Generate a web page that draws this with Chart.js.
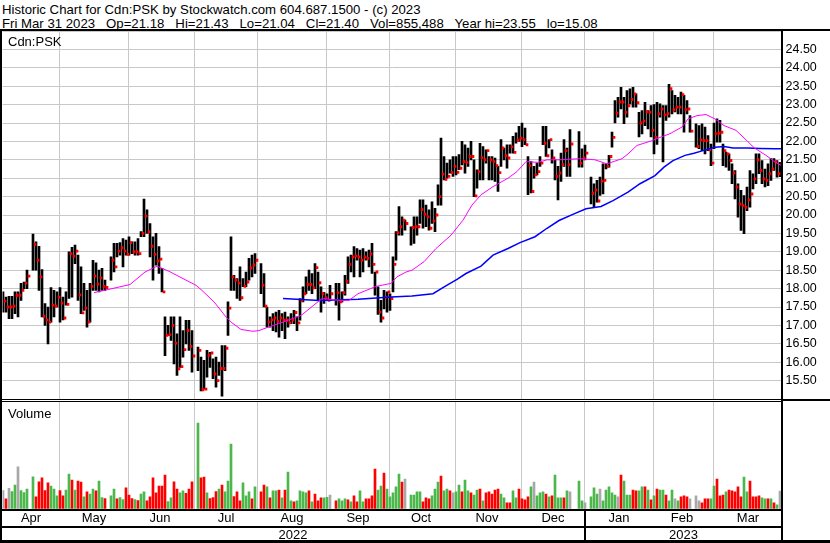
<!DOCTYPE html>
<html>
<head>
<meta charset="utf-8">
<script src="https://cdn.jsdelivr.net/npm/chart.js@4.4.0/dist/chart.umd.min.js"></script>
<style>
  body { margin: 0; background: #fff; }
  #wrap { position: relative; width: 830px; height: 543px; overflow: hidden; background: #fff;
          font-family: "Liberation Sans", Arial, sans-serif; color: #000; }
  canvas { position: absolute; left: 0; }
  .ln { position: absolute; background: #000; }
  .txt { position: absolute; font-size: 13px; line-height: 13px; white-space: pre; }
</style>
</head>
<body>
<div id="wrap">
  <div class="txt" style="left:2px;top:3px;font-size:13.2px">Historic Chart for Cdn:PSK by Stockwatch.com 604.687.1500 - (c) 2023</div>
  <div class="txt" style="left:2px;top:17px;font-size:13.2px">Fri Mar 31 2023   Op=21.18   Hi=21.43   Lo=21.04   Cl=21.40   Vol=855,488   Year hi=23.55   lo=15.08</div>

  <canvas id="price" width="830" height="368" style="top:31px"></canvas>
  <canvas id="marks" width="830" height="368" style="top:31px"></canvas>
  <canvas id="vol" width="830" height="125" style="top:402px"></canvas>

  <div class="txt" style="left:8px;top:35px">Cdn:PSK</div>
  <div class="txt" style="left:8px;top:407px">Volume</div>
  <div class="txt" id="y0" style="top:528px;text-align:center"></div>
  <div class="txt" id="y1" style="top:528px;text-align:center"></div>

  <!-- frame -->
  <div class="ln" style="left:0;top:29px;width:830px;height:2px"></div>
  <div class="ln" style="left:0;top:29px;width:2px;height:514px"></div>
  <div class="ln" style="left:781px;top:29px;width:2px;height:514px"></div>
  <div class="ln" style="left:0;top:399px;width:781px;height:1px"></div>
  <div class="ln" style="left:0;top:401px;width:781px;height:1px"></div>
  <div class="ln" style="left:781px;top:399px;width:49px;height:2px"></div>
  <div class="ln" style="left:0;top:509px;width:781px;height:2px"></div>
  <div class="ln" style="left:0;top:526px;width:781px;height:2px"></div>
  <div class="ln" style="left:0;top:540px;width:830px;height:3px"></div>
  <div class="ln" id="ysep" style="top:509px;width:2px;height:33px"></div>
</div>

<script>
// one slot per weekday, Mon 4 Apr 2022 .. Fri 31 Mar 2023 (null = exchange holiday)
const months = ["Apr", "May", "Jun", "Jul", "Aug", "Sep", "Oct", "Nov", "Dec", "Jan", "Feb", "Mar"];
const monthLine = [0, 19, 42, 64, 85, 108, 129, 151, 173, 194, 217, 237]; // slot where each month's grid line falls
const years = ["2022", "2023"];
const yearStart = [0, 194];

const hi = [
  17.91,17.77,17.79,17.79,17.91,17.91,18.14,18.18,18.50,null,19.48,19.27,19.15,18.52,17.59,17.50,18.03,17.95,17.91,18.03,
  17.77,17.91,19.00,19.12,19.18,18.91,18.59,18.14,17.95,18.14,18.77,18.70,18.50,18.55,18.23,null,18.86,19.23,19.23,19.25,19.36,19.32,
  19.41,19.27,19.27,19.36,19.55,20.43,20.14,19.77,19.41,19.50,19.14,18.55,17.23,17.00,17.23,17.23,16.77,17.23,16.86,17.14,17.14,16.86,
  null,16.41,16.14,16.05,16.32,16.27,16.09,16.14,16.00,16.45,16.45,17.64,19.41,18.36,18.27,18.59,18.27,18.45,18.82,18.91,18.95,
  null,18.68,18.41,17.50,17.23,17.32,17.36,17.41,17.32,17.36,17.23,17.32,17.41,17.23,17.73,18.05,18.32,18.50,18.41,18.68,18.45,18.05,17.90,
  17.86,18.09,null,18.14,18.14,17.91,18.36,18.86,18.91,19.14,19.09,19.05,19.09,19.00,19.05,19.23,18.45,18.05,17.68,17.95,17.91,17.86,
  18.86,19.55,20.23,19.95,19.86,null,19.68,19.95,19.95,20.41,20.41,20.27,20.14,20.36,20.18,20.82,22.09,21.59,21.41,21.50,21.59,
  21.59,21.64,22.00,21.91,21.82,22.00,21.50,21.23,21.95,21.86,21.77,21.59,21.59,21.55,21.32,22.05,21.82,21.91,21.91,22.14,22.23,22.41,
  22.50,22.36,21.59,21.45,21.32,21.41,21.59,22.41,22.41,22.05,21.77,21.50,21.32,21.68,22.05,21.82,22.32,null,null,22.27,21.80,21.90,
  null,21.03,20.85,20.94,21.03,21.39,21.39,21.62,22.25,23.11,23.20,23.47,23.20,23.38,23.43,23.47,23.29,22.79,22.84,23.06,22.84,22.97,
  23.00,23.06,23.02,22.97,22.97,23.55,23.38,23.25,23.20,23.34,23.25,23.11,22.70,null,22.48,22.43,22.48,22.39,22.16,21.93,
  22.50,22.61,22.57,21.93,21.71,21.66,21.39,21.21,20.85,20.67,20.53,20.76,21.21,21.12,21.66,21.66,21.48,21.25,21.39,21.53,21.53,21.48,21.43
];
const lo = [
  17.36,17.36,17.18,17.18,17.32,17.23,17.68,18.00,18.00,null,18.50,18.50,17.95,17.23,17.00,16.50,17.09,17.23,17.50,17.09,
  17.15,17.55,17.73,17.77,18.68,17.68,17.32,17.41,16.95,17.09,17.95,17.95,17.91,17.95,17.95,null,18.23,18.45,18.86,18.91,18.59,18.91,
  18.91,18.95,18.91,18.91,19.41,19.41,19.50,18.86,18.23,18.64,18.41,17.91,16.18,16.73,16.59,15.95,15.64,15.86,16.14,16.50,16.32,15.73,
  null,15.77,15.22,15.27,15.59,15.86,15.55,15.32,15.64,15.08,15.77,16.73,17.95,17.95,17.73,17.68,18.05,18.05,18.23,18.32,18.41,
  null,17.86,17.50,16.95,16.95,16.86,16.82,16.68,16.86,16.64,16.95,17.05,17.05,16.86,17.14,17.64,17.86,17.95,17.86,18.00,17.68,17.36,17.60,
  17.68,17.68,null,17.55,17.14,17.64,17.82,18.14,18.45,18.32,18.77,18.32,18.45,18.77,18.59,18.41,17.82,17.30,17.09,17.45,17.36,17.41,
  17.91,18.77,19.45,19.45,19.59,null,19.18,19.23,19.45,19.77,19.64,19.68,19.59,19.77,19.55,20.27,20.27,20.95,21.00,21.14,21.05,
  21.09,21.23,21.36,21.14,21.32,21.50,20.50,20.73,20.95,20.95,21.41,20.95,20.95,20.91,20.64,21.32,21.50,21.27,21.68,21.68,21.95,22.00,
  21.86,21.91,20.55,20.60,21.00,21.09,21.32,21.91,21.59,21.82,21.41,20.95,20.41,20.91,21.32,21.05,21.05,null,null,21.30,21.30,21.50,
  null,20.30,20.20,20.35,20.53,20.57,21.25,21.30,21.84,22.50,22.66,22.88,22.48,22.66,23.02,22.93,22.93,22.12,22.20,22.43,22.34,22.12,
  21.66,21.92,22.66,21.44,22.57,22.66,22.75,22.80,22.75,22.75,22.25,22.75,22.25,null,21.84,21.80,21.75,21.66,21.75,21.34,
  21.80,21.98,21.98,21.34,21.30,21.21,20.85,20.44,19.94,19.58,19.49,20.12,20.21,20.71,20.85,21.12,20.85,20.76,20.80,20.94,21.21,21.03,21.04
];
const cl = [
  17.66,17.50,17.50,17.52,17.82,17.82,17.95,18.15,18.34,null,19.20,18.77,18.32,17.25,17.15,17.09,17.55,17.52,17.77,17.61,
  17.20,17.57,18.95,18.88,19.02,17.83,17.34,17.47,17.09,18.06,18.34,18.12,18.29,18.06,18.03,null,18.77,18.59,19.02,19.11,19.02,18.93,
  19.25,19.00,19.00,18.95,19.50,19.97,19.55,19.15,18.93,18.75,18.80,17.91,16.73,16.75,17.00,16.52,15.82,15.88,16.34,16.86,16.43,16.17,
  null,16.32,15.25,15.27,16.19,16.25,15.68,15.50,15.83,15.83,16.38,17.47,18.32,18.23,18.15,17.75,18.06,18.18,18.56,18.64,18.77,
  null,18.09,17.52,17.09,17.15,17.20,17.11,17.20,17.14,17.14,17.07,17.15,17.35,17.07,17.68,17.86,18.11,18.11,18.02,18.57,18.16,17.86,17.75,
  17.68,17.86,null,17.89,17.64,17.89,18.20,18.66,18.86,18.89,18.86,18.77,18.86,18.82,18.94,18.66,18.45,17.36,17.20,17.77,17.91,17.73,
  18.66,19.52,19.68,19.86,19.77,null,19.66,19.68,19.68,20.15,20.02,19.95,19.64,19.84,20.00,20.50,21.11,20.97,21.05,21.15,21.32,
  21.16,21.27,21.45,21.43,21.59,21.59,20.52,21.18,21.56,21.50,21.75,21.50,21.45,21.34,21.15,21.82,21.61,21.55,21.85,21.70,22.03,22.09,
  22.05,21.91,21.34,20.64,21.09,21.18,21.41,21.95,21.61,22.05,21.55,21.05,21.14,21.37,21.75,21.37,21.93,null,null,21.41,21.55,21.68,
  null,20.59,20.68,20.38,20.92,20.94,21.32,21.59,22.11,22.77,23.07,23.07,22.79,22.97,23.14,23.29,23.05,22.50,22.55,22.81,22.79,22.30,
  22.11,22.75,22.88,22.72,22.75,23.43,22.86,22.93,22.93,23.27,22.86,22.88,22.28,null,21.86,22.04,22.02,22.02,21.77,21.41,
  22.21,22.22,22.25,21.75,21.66,21.48,21.14,20.76,20.30,20.26,20.21,20.41,20.57,20.98,21.50,21.21,20.98,20.94,21.12,21.25,21.44,21.12,21.40
];
// volume in millions of shares
const vol = [
  0.88,0.40,1.02,0.83,1.21,2.27,0.88,0.77,0.98,null,1.69,0.52,1.40,1.62,0.88,1.33,1.15,0.98,0.58,0.88,
  0.58,0.92,1.85,1.50,0.92,1.44,1.38,0.52,0.81,0.69,0.98,0.87,1.44,0.48,0.42,null,0.58,0.98,0.40,0.48,0.37,1.04,
  0.63,0.42,0.37,0.31,0.69,0.81,0.29,0.52,1.62,0.75,1.15,1.15,1.79,0.25,0.46,1.40,0.98,0.75,0.87,0.73,0.98,1.40,
  null,4.81,1.62,1.67,0.75,0.42,0.48,0.83,0.98,1.21,0.81,1.44,3.58,0.54,0.81,0.29,1.33,0.58,0.81,0.40,1.10,
  null,0.81,1.21,1.10,0.46,0.87,0.87,0.92,0.46,0.92,1.96,0.29,0.23,0.29,0.87,0.81,0.75,0.87,0.23,0.69,0.29,0.46,0.46,
  0.50,0.63,null,0.29,0.40,0.29,0.40,0.35,0.23,0.58,0.23,0.87,0.23,0.40,0.40,0.58,2.13,0.92,1.15,1.90,0.98,0.52,
  0.75,1.10,1.85,1.38,1.56,null,0.63,0.63,0.81,0.81,0.23,0.46,0.40,0.58,0.98,1.38,1.73,0.87,0.98,0.87,0.75,
  0.81,1.21,0.81,1.50,0.87,0.75,0.63,0.92,0.98,0.29,0.75,0.81,0.69,0.92,0.98,0.69,0.46,0.17,0.17,0.87,0.46,0.98,
  0.40,0.35,0.52,1.10,1.38,0.58,0.75,0.81,0.69,0.52,0.58,1.79,0.46,0.46,0.46,0.87,0.81,null,null,1.44,0.29,0.17,
  null,0.52,1.04,0.69,0.98,0.29,0.92,1.10,0.75,0.63,0.52,1.79,1.44,0.63,0.63,0.92,0.87,0.87,1.10,1.10,0.92,0.35,
  0.58,0.98,0.92,0.92,0.63,0.29,0.92,0.40,0.29,0.52,0.58,0.52,0.40,null,0.58,0.29,0.17,0.40,0.40,0.40,
  1.15,1.56,0.58,0.63,0.81,0.92,0.87,0.81,1.10,0.52,1.67,0.81,1.44,0.52,0.52,0.58,0.46,0.40,0.40,0.40,0.17,0.06,0.86
];
// day direction for the volume colour: u = up, d = down, n = unchanged
const volDir = (
  "ndnuunuuu.uddddduuud" + "duududduduuduud.uuduud" + "dduduudddd" + "ddduudduud" + "dd" +
  ".uddudddudu" + "uuddduuudu" + ".dduduudud" + "uuduuuudud" + "dd" +
  "uu.uduuududdu" + "udddduudu" + "uuuud.duuuuddduu" + "uduud" +
  "nuuduuduud" + "uddddduudd" + "uu" + "ddddunuuud" + "uduuudu..duu" +
  ".duuunuuuuu" + "nduuudduud" + "u" + "duduuduunu" + "ddd.dnnddd" +
  "uudddudddd" + "duudddduud" + "udu"
).split("");

// moving averages: [slot, price]
const maPink = [[30,17.89],[36,18.0],[42,18.11],[47,18.45],[51,18.61],[55,18.47],[59,18.30],[64,18.09],[66,17.95],
  [70,17.64],[74,17.23],[76,17.07],[79,16.89],[83,16.84],[85,16.86],[88,16.95],[93,17.09],[99,17.27],[106,17.73],
  [112,17.68],[115,17.68],[118,17.86],[124,18.06],[129,18.14],[131,18.32],[134,18.45],[136,18.5],[140,18.73],
  [144,19.09],[149,19.45],[153,19.86],[156,20.27],[159,20.55],[163,20.77],[168,21.0],[171,21.18],[174,21.45],
  [178,21.43],[181,21.5],[185,21.5],[192,21.53],[197,21.50],[201,21.39],[206,21.53],[208,21.66],[211,21.89],
  [216,22.02],[219,22.12],[222,22.21],[226,22.39],[228,22.61],[231,22.70],[234,22.73],[237,22.61],[240,22.43],
  [244,22.30],[247,22.07],[250,21.83],[254,21.62],[257,21.44],[259,21.35]];
const maBlue = [[93,17.73],[105,17.68],[118,17.71],[129,17.77],[136,17.80],[143,17.86],[147,18.06],[151,18.25],
  [154,18.41],[159,18.61],[163,18.91],[168,19.09],[172,19.25],[177,19.41],[181,19.64],[185,19.85],[190,20.03],
  [194,20.17],[199,20.23],[203,20.39],[208,20.62],[212,20.85],[217,21.07],[220,21.30],[223,21.48],[227,21.62],
  [230,21.68],[233,21.75],[237,21.84],[240,21.86],[243,21.82],[248,21.82],[252,21.81],[257,21.80],[259,21.80]];

const N = hi.length;
const labels = hi.map((_, i) => String(i));
const GRID = "#c8c8c8";
const NONE = "rgba(0,0,0,0)";
Chart.defaults.font.family = '"Liberation Sans", Arial, sans-serif';
Chart.defaults.color = "#000";

const isMonthLine = i => monthLine.indexOf(i) > 0;
const monthLabel = {};
months.forEach((m, k) => {
  const end = k + 1 < monthLine.length ? monthLine[k + 1] : N;
  monthLabel[Math.floor((monthLine[k] + end - 1) / 2)] = m;
});

const series = pts => {
  const a = new Array(N).fill(null);
  pts.forEach(([i, v]) => { a[i] = v; });
  return a;
};
const hlBars = hi.map((h, i) => h == null ? null : [lo[i], h]);
const closeTicks = cl.map(c => c == null ? null : [c - 0.03, c + 0.03]);

const common = {
  responsive: false,
  animation: false,
  events: [],
  layout: { padding: { left: 2.5, right: 0, top: 0, bottom: 0 } },
  plugins: { legend: { display: false }, tooltip: { enabled: false } }
};
const AXIS_W = 47.5;

// price scales; showGrid false gives the same geometry with nothing drawn
function priceScales(showGrid) {
  return {
    x: {
      grid: { offset: true, drawTicks: false, color: ctx => showGrid && isMonthLine(ctx.index) ? GRID : NONE },
      ticks: { display: false },
      border: { display: false },
      afterFit: s => { s.height = 0; s.paddingLeft = 0; s.paddingRight = 0; }
    },
    y: {
      position: "right",
      min: 15,
      max: 25,
      ticks: {
        display: showGrid, stepSize: 0.5, autoSkip: false, padding: 3,
        font: { size: 12.5 },
        callback: v => (v > 15 && v < 25) ? v.toFixed(2) : ""
      },
      grid: { drawTicks: false, color: showGrid ? GRID : NONE },
      border: { display: false },
      afterFit: s => { s.width = AXIS_W; s.paddingTop = 0; s.paddingBottom = 0; }
    }
  };
}

// high-low bars with grid and price axis
new Chart(document.getElementById("price"), {
  type: "bar",
  data: {
    labels: labels,
    datasets: [
      { data: hlBars, backgroundColor: "#000", barThickness: 2 },
      { data: closeTicks, backgroundColor: NONE, barThickness: 2 }
    ]
  },
  options: Object.assign({}, common, { scales: priceScales(true) })
});

// close ticks (right of each bar) and moving averages drawn on top
new Chart(document.getElementById("marks"), {
  type: "bar",
  data: {
    labels: labels,
    datasets: [
      { type: "line", data: series(maPink), borderColor: "#ff00ff", borderWidth: 1, pointRadius: 0, spanGaps: true, order: 0 },
      { type: "line", data: series(maBlue), borderColor: "#0000ff", borderWidth: 1.5, pointRadius: 0, spanGaps: true, order: 0 },
      { data: hlBars, backgroundColor: NONE, barThickness: 2, order: 1 },
      { data: closeTicks, backgroundColor: "#ff0000", barThickness: 2, order: 1 }
    ]
  },
  options: Object.assign({}, common, { scales: priceScales(false) })
});

const VMIN = -183000, VMAX = 6026000;
const volTicks = [1500000, 3000000, 4500000];
const dirColor = { u: "#4cb84c", d: "#ff0000", n: "#a8a8a8", ".": "#a8a8a8" };

const volChart = new Chart(document.getElementById("vol"), {
  type: "bar",
  data: {
    labels: labels,
    datasets: [
      {
        data: vol.map(v => v == null ? null : v * 1e6),
        backgroundColor: volDir.map(d => dirColor[d]),
        barThickness: 2,
        base: VMIN
      },
      { data: vol.map(() => null), barThickness: 2 }
    ]
  },
  options: Object.assign({}, common, {
    scales: {
      x: {
        grid: { offset: true, drawTicks: false, color: ctx => isMonthLine(ctx.index) ? GRID : NONE },
        border: { display: false },
        ticks: {
          autoSkip: false, maxRotation: 0, minRotation: 0, padding: 2,
          font: { size: 13 },
          callback: (v, i) => monthLabel[i] || ""
        },
        afterFit: s => { s.height = 18; s.paddingLeft = 0; s.paddingRight = 0; }
      },
      y: {
        position: "right",
        min: VMIN,
        max: VMAX,
        ticks: {
          stepSize: 1500000, autoSkip: false, padding: 5,
          font: { size: 13 },
          callback: v => volTicks.includes(v) ? (v / 1e6).toFixed(1) + " M" : ""
        },
        grid: { drawTicks: false, color: ctx => volTicks.includes(ctx.tick.value) ? GRID : NONE },
        border: { display: false },
        afterFit: s => { s.width = AXIS_W; s.paddingTop = 0; s.paddingBottom = 0; }
      }
    }
  })
});

// year row under the month labels
const xs = volChart.scales.x;
const slotW = xs.getPixelForValue(1) - xs.getPixelForValue(0);
const janX = Math.round(xs.getPixelForValue(yearStart[1]) - slotW / 2);
document.getElementById("ysep").style.left = (janX - 1) + "px";
const y0 = document.getElementById("y0"), y1 = document.getElementById("y1");
y0.textContent = years[0];
y0.style.left = "2px"; y0.style.width = (janX - 3) + "px";
y1.textContent = years[1];
y1.style.left = (janX + 1) + "px"; y1.style.width = (781 - janX - 1) + "px";
</script>
</body>
</html>
